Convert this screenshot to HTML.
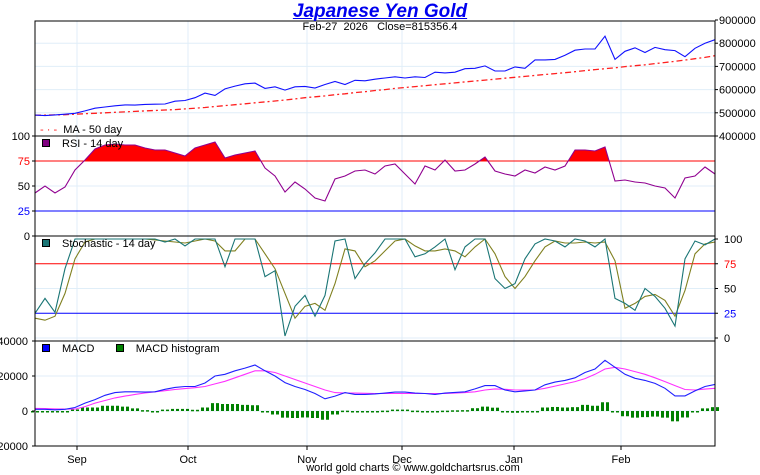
<!DOCTYPE html>
<html><head><meta charset="utf-8"><style>
body{margin:0;background:#fff;}
svg{display:block;font-family:"Liberation Sans",sans-serif;}
</style></head><body>
<svg id="c" width="760" height="475"></svg>
<script>
const months=["Sep","Oct","Nov","Dec","Jan","Feb"];
const monthIdx=[4.2,15.3,27.2,36.7,47.9,58.6];
const price=[490,488,491,494,498,508,520,525,530,534,533,536,537,538,550,553,565,585,575,603,615,625,628,605,612,598,612,614,607,622,635,622,640,638,645,650,655,650,655,652,675,672,675,690,692,702,680,680,698,692,728,728,730,748,770,775,775,830,730,765,780,760,782,772,768,742,778,800,815];
const ma50=[490,490,491,492,494,496,498,500,502,504,506,508,510,512,514,517,520,523,527,531,535,539,543,547,551,555,560,565,569,573,578,582,587,591,596,600,605,609,613,617,621,625,629,633,637,641,645,649,653,657,661,665,669,673,677,682,686,690,694,699,703,707,712,717,722,727,733,739,746];
const rsi=[43,50,43,49,66,76,87,91,92,91,91,88,86,86,83,80,88,91,94,78,81,83,85,68,60,44,54,47,38,35,57,60,65,66,62,70,72,62,52,70,66,76,65,66,72,79,65,62,60,66,63,69,66,70,86,86,85,89,55,56,54,53,50,48,38,58,60,69,62];
const stochK=[25,40,26,70,100,100,100,100,100,100,100,100,100,97,100,93,100,100,100,72,100,100,100,62,68,2,32,43,22,43,98,100,60,75,86,100,100,100,82,85,92,100,69,92,100,100,60,50,55,80,95,100,98,92,100,98,92,100,40,35,28,50,42,30,12,80,98,94,100];
const stochD=[20,18,22,45,80,97,100,100,100,100,100,100,99,98,97,96,98,100,98,88,88,100,100,85,70,45,20,32,35,28,55,90,88,72,78,88,98,100,93,88,88,90,88,82,92,100,85,62,50,62,78,92,98,96,96,97,96,97,78,30,35,42,44,38,22,48,85,95,97];
const macd=[1,1,0.7,1,2,4.5,6.5,9,10.5,11,11,10.8,11,12.4,13.5,14,14,16,20,21,23,24.5,26.3,23,20,16.2,14,12.3,10,7,8.5,10.5,9.5,9.5,9.8,10.2,10.8,10.8,10.2,10,9.5,10.2,10.6,11,12.6,14.5,14.5,12,11,11.5,12,15,16.5,17.5,19,22,24,29,25,21,18.7,17.5,15.8,13,8.6,8.6,11.5,14,15.2];
const signal=[1.5,1.4,1.2,1.1,1.1,2.5,4.5,6,7.5,8.5,9.5,10.3,11,11.6,12.3,12.8,13.3,14,15.5,17,19,21,23,23,22,20,18,16,14,12,10.5,10.3,10.2,10.1,10,10,10,10,10,10,10,10,10.2,10.5,11,12,12.6,12.4,12,12,12,13,14.2,15.5,16.8,18.5,21,24,25,24,22.5,21,19,16.8,14.5,12.3,12,12.5,13];
const priceTicks=[900000,800000,700000,600000,500000,400000];
const rsiTicks=[100,75,50,25,0];
const stochTicks=[100,75,50,25,0];
const macdTicks=[40000,20000,0,-20000];

const NS="http://www.w3.org/2000/svg";
const svg=document.getElementById('c');
const L=35,R=715;
const x=i=>L+i*(R-L)/(price.length-1);
const yP=v=>136-(v-400)*116/500;
const yR=v=>236-v;
const yS=v=>338-v*0.99;
const yM=v=>411-v*1.75;
function el(t,a,p){const e=document.createElementNS(NS,t);for(const k in a)e.setAttribute(k,a[k]);(p||svg).appendChild(e);return e;}
function txt(s,a){const e=el('text',a);e.textContent=s;return e;}
function line(arr,fy,col,extra){let d='';arr.forEach((v,i)=>{d+=(i?'L':'M')+x(i).toFixed(1)+','+fy(v).toFixed(1);});return el('path',Object.assign({d:d,fill:'none',stroke:col,'stroke-width':1.1},extra||{}));}

const grid=el('g',{});


monthIdx.forEach(m=>{el('line',{x1:x(m),x2:x(m),y1:21,y2:446,stroke:'#e0eef8'},grid);});
[800,700,600,500].forEach(v=>el('line',{x1:L,x2:R,y1:yP(v),y2:yP(v),stroke:'#e0eef8'},grid));
el('line',{x1:L,x2:R,y1:yR(50),y2:yR(50),stroke:'#e0eef8'},grid);
el('line',{x1:L,x2:R,y1:yS(50),y2:yS(50),stroke:'#e0eef8'},grid);
el('line',{x1:L,x2:R,y1:yS(0),y2:yS(0),stroke:'#e0eef8'},grid);
el('line',{x1:L,x2:R,y1:yM(20),y2:yM(20),stroke:'#e0eef8'},grid);
el('line',{x1:L,x2:R,y1:yM(0),y2:yM(0),stroke:'#e0eef8'},grid);

const ma=line(ma50,yP,'#ff2020',{'stroke-dasharray':'6,3,2,3','stroke-width':1.3});


const pl=line(price,yP,'#1010ff');



const cpath=el('clipPath',{id:'above75'});
el('rect',{x:L,y:136,width:R-L,height:yR(75)-136},cpath);
let fd='M'+x(0)+','+yR(75);rsi.forEach((v,i)=>fd+='L'+x(i).toFixed(1)+','+yR(v).toFixed(1));fd+='L'+x(rsi.length-1)+','+yR(75)+'Z';
const rf=el('path',{d:fd,fill:'#ff0000','clip-path':'url(#above75)'});


el('line',{x1:L,x2:R,y1:yR(75),y2:yR(75),stroke:'#ff0000'});
el('line',{x1:L,x2:R,y1:yR(25),y2:yR(25),stroke:'#0000ff'});
const rl=line(rsi,yR,'#900090');



el('line',{x1:L,x2:R,y1:yS(75),y2:yS(75),stroke:'#ff0000'});
el('line',{x1:L,x2:R,y1:yS(25),y2:yS(25),stroke:'#0000ff'});
const sd=line(stochD,yS,'#808020');


const sk=line(stochK,yS,'#1a7575');



macd.forEach((v,i)=>{const h=v-signal[i];const y0=yM(0),y1=yM(h);
 [-2.5,2.5].forEach(off=>{
  const b=el('rect',{x:x(i)+off-1.5,y:Math.min(y0,y1),width:3,height:Math.max(1.5,Math.abs(y1-y0)),fill:'#008000'});
  
  });});
const sg=line(signal,yM,'#ff30ff');


const ml=line(macd,yM,'#2020ff');



[[21,136],[136,236],[236,341],[341,446]].forEach(([a,b])=>el('rect',{x:L,y:a,width:R-L,height:b-a,fill:'none',stroke:'#000'}));

priceTicks.forEach(v=>{const y=yP(v/1000);el('line',{x1:R,x2:R+3,y1:y,y2:y,stroke:'#000'});
 const t=txt(String(v),{x:719,y:y+4,'font-size':11});
 
 });
rsiTicks.forEach(v=>{const y=yR(v);el('line',{x1:L-3,x2:L,y1:y,y2:y,stroke:'#000'});
 const t=txt(String(v),{x:30,y:y+4,'font-size':11,'text-anchor':'end',fill:v==75?'#ff0000':v==25?'#0000ff':'#000'});
 
 });
stochTicks.forEach(v=>{const y=yS(v);el('line',{x1:R,x2:R+3,y1:y,y2:y,stroke:'#000'});
 const t=txt(String(v),{x:724,y:y+4,'font-size':11,fill:v==75?'#ff0000':v==25?'#0000ff':'#000'});
 
 });
macdTicks.forEach(v=>{const y=yM(v/1000);el('line',{x1:L-3,x2:L,y1:y,y2:y,stroke:'#000'});
 const t=txt(String(v),{x:28,y:y+4,'font-size':11,'text-anchor':'end'});
 
 });
months.forEach((m,k)=>{const t=txt(m,{x:x(monthIdx[k]),y:463,'font-size':11,'text-anchor':'middle'});
 el('line',{x1:x(monthIdx[k]),x2:x(monthIdx[k]),y1:446,y2:450,stroke:'#000'});
 
 });
</script>
<div style="position:absolute;left:0;top:0;width:760px;height:475px;pointer-events:none;font-family:'Liberation Sans',sans-serif;">
<div style="position:absolute;left:0;width:760px;top:2px;text-align:center;font-size:19px;font-weight:bold;font-style:italic;color:#0000ee;text-decoration:underline;line-height:20px;">Japanese Yen Gold</div>
<div style="position:absolute;left:0;width:760px;top:21px;text-align:center;font-size:11px;line-height:12px;white-space:pre;">Feb-27  2026   Close=815356.4</div>
<div style="position:absolute;left:40px;top:124px;font-size:11px;white-space:pre;"><span style="color:#ff2020">- · -</span>  MA - 50 day</div>
<div style="position:absolute;left:42px;top:138px;font-size:11px;"><span style="display:inline-block;width:6px;height:6px;background:#800080;border:1px solid #000;margin-right:12px;"></span>RSI - 14 day</div>
<div style="position:absolute;left:42px;top:238px;font-size:11px;"><span style="display:inline-block;width:6px;height:6px;background:#1a7575;border:1px solid #000;margin-right:12px;"></span>Stochastic - 14 day</div>
<div style="position:absolute;left:42px;top:343px;font-size:11px;white-space:pre;"><span style="display:inline-block;width:6px;height:6px;background:#0000ff;border:1px solid #000;margin-right:12px;"></span>MACD       <span style="display:inline-block;width:6px;height:6px;background:#008000;border:1px solid #000;margin-right:12px;"></span>MACD histogram</div>
<div style="position:absolute;left:0;width:826px;top:462px;text-align:center;font-size:11px;">world gold charts © www.goldchartsrus.com</div>
</div>
</body></html>
